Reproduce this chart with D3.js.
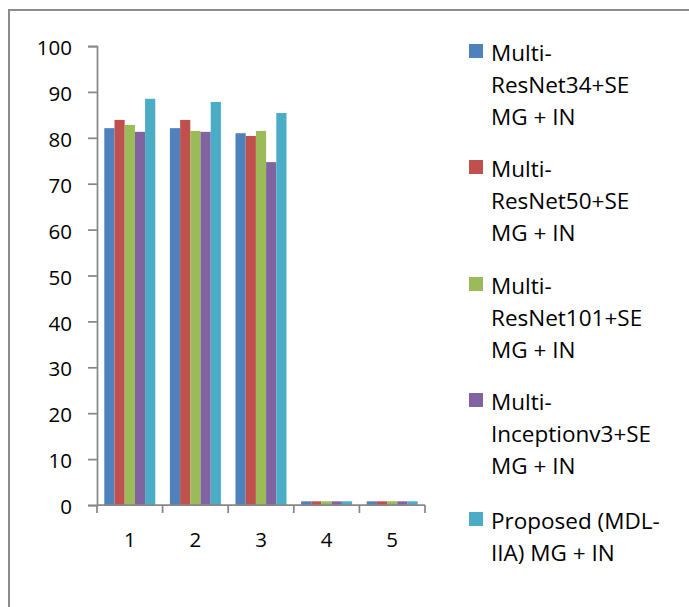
<!DOCTYPE html>
<html>
<head>
<meta charset="utf-8">
<script src="https://cdn.jsdelivr.net/npm/d3@7/dist/d3.min.js"></script>
<style>
  html, body { margin: 0; padding: 0; background: #fff; }
  svg { display: block; }
  text { font-family: "Open Sans", Lato, sans-serif; fill: #000; }
</style>
</head>
<body>
<svg id="chart" width="689" height="607"></svg>
<script>
// ---- data ----
const categories = ["1", "2", "3", "4", "5"];
const seriesNames = [
  ["Multi-", "ResNet34+SE", "MG + IN"],
  ["Multi-", "ResNet50+SE", "MG + IN"],
  ["Multi-", "ResNet101+SE", "MG + IN"],
  ["Multi-", "Inceptionv3+SE", "MG + IN"],
  ["Proposed (MDL-", "IIA) MG + IN"]
];
const resnet34 = [82.1, 82.1, 81.0, 0.8, 0.8];
const resnet50 = [83.9, 83.9, 80.4, 0.8, 0.8];
const resnet101 = [82.8, 81.5, 81.5, 0.8, 0.8];
const inception = [81.3, 81.3, 74.7, 0.8, 0.8];
const proposed = [88.5, 87.8, 85.4, 0.8, 0.8];
const yTicks = [0, 10, 20, 30, 40, 50, 60, 70, 80, 90, 100];
const colors = ["#4F81BD", "#C0504D", "#9BBB59", "#8064A2", "#4BACC6"];

const seriesValues = [resnet34, resnet50, resnet101, inception, proposed];
const seriesIdx = d3.range(seriesValues.length);

const svg = d3.select("#chart");

// outer chart border
svg.append("path")
  .attr("d", "M9,612 L9,10 L694,10")
  .attr("fill", "none")
  .attr("stroke", "#8c8c8c")
  .attr("stroke-width", 2);

// scales
const x0 = d3.scaleBand().domain(categories).range([97, 425]).paddingInner(0).paddingOuter(0);
const x1 = d3.scaleBand().domain(seriesIdx).range([0, x0.bandwidth()]).paddingInner(0).paddingOuter(0.716);
const y = d3.scaleLinear().domain([0, 100]).range([505, 46]);

// bars
const groups = svg.append("g").selectAll("g")
  .data(categories)
  .join("g")
  .attr("transform", d => `translate(${x0(d)},0)`);

groups.selectAll("rect")
  .data((c, ci) => seriesIdx.map(s => ({ s, v: seriesValues[s][ci] })))
  .join("rect")
  .attr("x", d => x1(d.s))
  .attr("width", x1.bandwidth())
  .attr("y", d => y(d.v))
  .attr("height", d => y(0) - y(d.v))
  .attr("fill", d => colors[d.s]);

// y axis
const yAxis = d3.axisLeft(y).tickValues(yTicks).tickSize(9).tickPadding(16);
const gy = svg.append("g").attr("transform", "translate(97,0)").call(yAxis);
gy.select(".domain").attr("stroke", "#888").attr("stroke-width", 1.75);
gy.selectAll(".tick line").attr("stroke", "#888").attr("stroke-width", 1.75);
gy.selectAll(".tick text")
  .attr("font-size", 20.5)
  .attr("font-family", "'Open Sans', sans-serif")
  .attr("fill", "#000")
  .attr("dy", "0.42em");

// x axis
const gx = svg.append("g").attr("transform", "translate(0,505)")
  .call(d3.axisBottom(x0).tickSize(0).tickPadding(0));
gx.select(".domain").remove();
gx.append("line")
  .attr("x1", 97).attr("x2", 425).attr("y1", 0).attr("y2", 0)
  .attr("stroke", "#888").attr("stroke-width", 1.75);
gx.selectAll(".boundary")
  .data(categories.concat(["end"]))
  .join("line")
  .attr("class", "boundary")
  .attr("x1", (d, i) => i < categories.length ? x0(d) : x0(categories[categories.length - 1]) + x0.bandwidth())
  .attr("x2", (d, i) => i < categories.length ? x0(d) : x0(categories[categories.length - 1]) + x0.bandwidth())
  .attr("y1", 0).attr("y2", 8)
  .attr("stroke", "#888").attr("stroke-width", 1.75);
gx.selectAll(".tick text")
  .attr("font-size", 20.5)
  .attr("font-family", "'Open Sans', sans-serif")
  .attr("fill", "#000")
  .attr("y", 42)
  .attr("dy", 0);

// legend
const legend = svg.append("g");
const entryBase = [61, 177, 294, 410, 529];
seriesIdx.forEach(i => {
  const g = legend.append("g").attr("transform", `translate(0,${entryBase[i]})`);
  g.append("rect")
    .attr("x", 469).attr("y", -17).attr("width", 14).attr("height", 14)
    .attr("fill", colors[i]);
  g.selectAll("text")
    .data(seriesNames[i])
    .join("text")
    .attr("x", 491)
    .attr("y", (d, k) => k * 32)
    .attr("font-size", 22.5)
    .text(d => d);
});
</script>
</body>
</html>
